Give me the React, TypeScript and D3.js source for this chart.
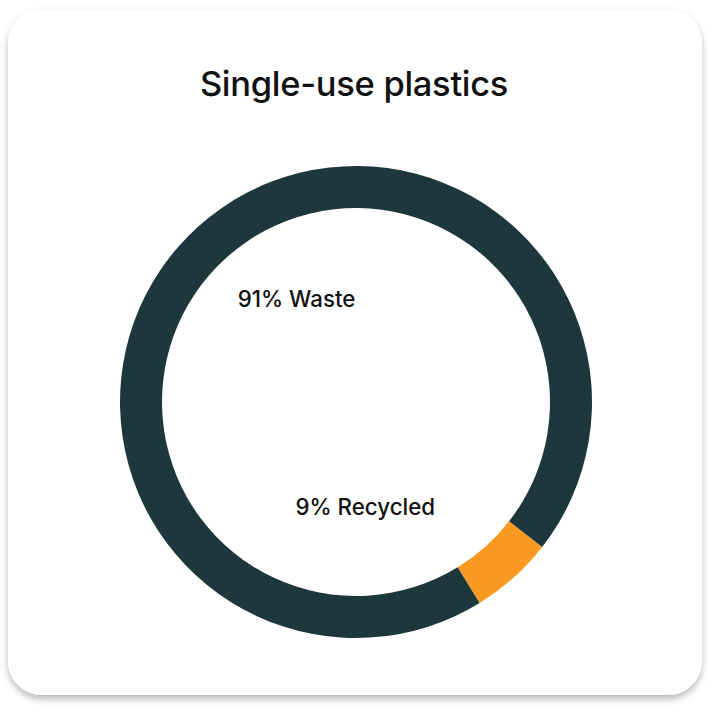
import React, { useEffect, useRef } from 'react';
import * as d3 from 'd3';

// Ring shares as drawn in the picture, and the labels shown inside it
const categories = ['Recycled', 'Waste'];
const ringShares = [5.7, 94.3];
const labelPercents = [9, 91];
const colors = ['#fa9a22', '#1e373d'];
// label placement (angle in degrees clockwise from top, distance from centre)
const labelAngles = [175, 330];
const labelRadii = [106, 119];

function App() {
    const svgRef = useRef<SVGSVGElement>(null);

    useEffect(() => {
        document.body.style.margin = '0';

        const width = 710;
        const height = 712;
        const cx = 356;
        const cy = 402;
        const outerR = 236;
        const innerR = 194;

        const svg = d3.select(svgRef.current)
            .attr('width', width)
            .attr('height', height);
        svg.selectAll('*').remove();

        // Card shadow
        const defs = svg.append('defs');
        const filter = defs.append('filter')
            .attr('id', 'card-shadow')
            .attr('x', '-10%').attr('y', '-10%')
            .attr('width', '120%').attr('height', '120%');
        filter.append('feDropShadow')
            .attr('dx', 0)
            .attr('dy', 4)
            .attr('stdDeviation', 3.5)
            .attr('flood-color', '#000')
            .attr('flood-opacity', 0.28);

        svg.append('rect')
            .attr('x', 8)
            .attr('y', 9)
            .attr('width', 694)
            .attr('height', 686)
            .attr('rx', 34)
            .attr('fill', '#fff')
            .attr('filter', 'url(#card-shadow)');

        // Title
        svg.append('text')
            .attr('x', 354)
            .attr('y', 96)
            .attr('text-anchor', 'middle')
            .attr('font-family', 'Inter, "Noto Sans", sans-serif')
            .attr('font-size', 34.5)
            .attr('font-weight', 500)
            .attr('letter-spacing', -0.3)
            .attr('fill', '#111')
            .text('Single-use plastics');

        const data = categories.map((c, i) => ({
            name: c,
            share: ringShares[i],
            pct: labelPercents[i],
            color: colors[i],
        }));

        const start = (127.9 * Math.PI) / 180;
        const pie = d3.pie<any>()
            .sort(null)
            .value(d => d.share)
            .startAngle(start)
            .endAngle(start + 2 * Math.PI);

        const arc = d3.arc<any>()
            .innerRadius(innerR)
            .outerRadius(outerR);

        const g = svg.append('g')
            .attr('transform', `translate(${cx},${cy})`);

        g.selectAll('.slice')
            .data(pie(data))
            .enter()
            .append('path')
            .attr('class', 'slice')
            .attr('d', arc)
            .attr('fill', d => d.data.color);

        // Labels inside the ring
        g.selectAll('.label')
            .data(data)
            .enter()
            .append('text')
            .attr('class', 'label')
            .attr('x', (d, i) => Math.sin((labelAngles[i] * Math.PI) / 180) * labelRadii[i])
            .attr('y', (d, i) => -Math.cos((labelAngles[i] * Math.PI) / 180) * labelRadii[i])
            .attr('dy', '0.35em')
            .attr('text-anchor', 'middle')
            .attr('font-family', 'Inter, "Noto Sans", sans-serif')
            .attr('font-size', 22.3)
            .attr('font-weight', 500)
            .attr('fill', '#111')
            .text(d => `${d.pct}% ${d.name}`);
    }, []);

    return <svg ref={svgRef} style={{ display: 'block' }}></svg>;
}

export default App;
